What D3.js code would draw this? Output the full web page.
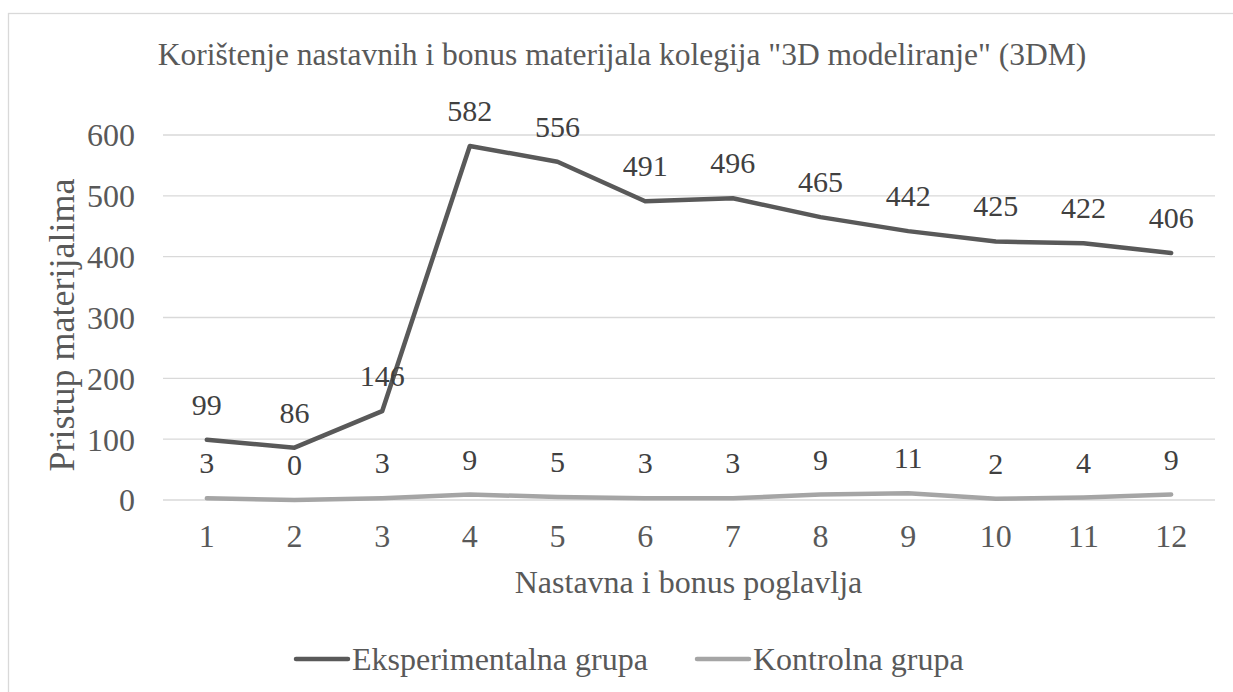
<!DOCTYPE html>
<html>
<head>
<meta charset="utf-8">
<script src="https://cdn.jsdelivr.net/npm/d3@7"></script>
<style>
  html, body { margin: 0; padding: 0; background: #fff; }
  svg { display: block; }
</style>
</head>
<body>
<svg id="chart" width="1233" height="692"></svg>
<script>
// Chapters and access counts per group
const chapters = ["1", "2", "3", "4", "5", "6", "7", "8", "9", "10", "11", "12"];
const experimental = [99, 86, 146, 582, 556, 491, 496, 465, 442, 425, 422, 406];
const control = [3, 0, 3, 9, 5, 3, 3, 9, 11, 2, 4, 9];
const yTicks = [0, 100, 200, 300, 400, 500, 600];
const seriesNames = ["Eksperimentalna grupa", "Kontrolna grupa"];
const seriesColors = ["#595959", "#a5a5a5"];

const FONT = "'Liberation Serif', 'Times New Roman', serif";
const TXT = "#595959";

const svg = d3.select("#chart");
const W = 1233, H = 692;
const plot = { left: 163, right: 1215, top: 135, bottom: 500 };

// Outer frame
svg.append("rect")
  .attr("x", 8.5).attr("y", 13.5)
  .attr("width", W + 20).attr("height", H + 20)
  .attr("fill", "none").attr("stroke", "#d9d9d9").attr("stroke-width", 1.3);

const x = d3.scaleBand().domain(chapters).range([plot.left, plot.right]);
const y = d3.scaleLinear().domain([0, 600]).range([plot.bottom, plot.top]);

// Horizontal gridlines
svg.append("g").selectAll("line").data(yTicks).join("line")
  .attr("x1", plot.left).attr("x2", plot.right)
  .attr("y1", d => y(d)).attr("y2", d => y(d))
  .attr("stroke", "#d9d9d9").attr("stroke-width", 1.3);

// Y axis labels
const yAxis = d3.axisLeft(y).tickValues(yTicks).tickSize(0).tickPadding(0);
const gy = svg.append("g").attr("transform", `translate(135,0)`).call(yAxis);
gy.select(".domain").remove();
gy.selectAll("text")
  .style("font-family", FONT).style("font-size", "32px").style("fill", TXT)
  .attr("dy", "0.34em");

// X axis labels
const xAxis = d3.axisBottom(x).tickSize(0).tickPadding(0);
const gx = svg.append("g").attr("transform", `translate(0,547)`).call(xAxis);
gx.select(".domain").remove();
gx.selectAll("text")
  .style("font-family", FONT).style("font-size", "32px").style("fill", TXT)
  .attr("y", 0).attr("dy", 0);

// Title
svg.append("text")
  .attr("x", 622).attr("y", 65)
  .attr("text-anchor", "middle")
  .style("font-family", FONT).style("font-size", "31.5px").style("fill", TXT)
  .text("Korištenje nastavnih i bonus materijala kolegija \"3D modeliranje\" (3DM)");

// Axis titles
svg.append("text")
  .attr("transform", `translate(74,325) rotate(-90)`)
  .attr("text-anchor", "middle")
  .style("font-family", FONT).style("font-size", "36px").style("fill", TXT)
  .text("Pristup materijalima");

svg.append("text")
  .attr("x", 688.5).attr("y", 593)
  .attr("text-anchor", "middle")
  .style("font-family", FONT).style("font-size", "32px").style("fill", TXT)
  .text("Nastavna i bonus poglavlja");

// Lines
const cx = d => x(d) + x.bandwidth() / 2;
const line = d3.line().x((d, i) => cx(chapters[i])).y(d => y(d));
const allSeries = [experimental, control];

allSeries.forEach((vals, s) => {
  svg.append("path")
    .datum(vals)
    .attr("d", line)
    .attr("fill", "none")
    .attr("stroke", seriesColors[s])
    .attr("stroke-width", 4.5)
    .attr("stroke-linejoin", "round")
    .attr("stroke-linecap", "round");
});

// Data labels
allSeries.forEach((vals, s) => {
  svg.append("g").selectAll("text").data(vals).join("text")
    .attr("x", (d, i) => cx(chapters[i]))
    .attr("y", d => y(d) - 25)
    .attr("text-anchor", "middle")
    .style("font-family", FONT).style("font-size", "30px").style("fill", "#404040")
    .text(d => d);
});

// Legend
const legend = [
  { name: seriesNames[0], color: seriesColors[0], x0: 296 },
  { name: seriesNames[1], color: seriesColors[1], x0: 697 }
];
legend.forEach(l => {
  svg.append("line")
    .attr("x1", l.x0).attr("x2", l.x0 + 52)
    .attr("y1", 659).attr("y2", 659)
    .attr("stroke", l.color).attr("stroke-width", 4.5).attr("stroke-linecap", "round");
  svg.append("text")
    .attr("x", l.x0 + 56).attr("y", 670)
    .style("font-family", FONT).style("font-size", "32px").style("fill", TXT)
    .text(l.name);
});
</script>
</body>
</html>
